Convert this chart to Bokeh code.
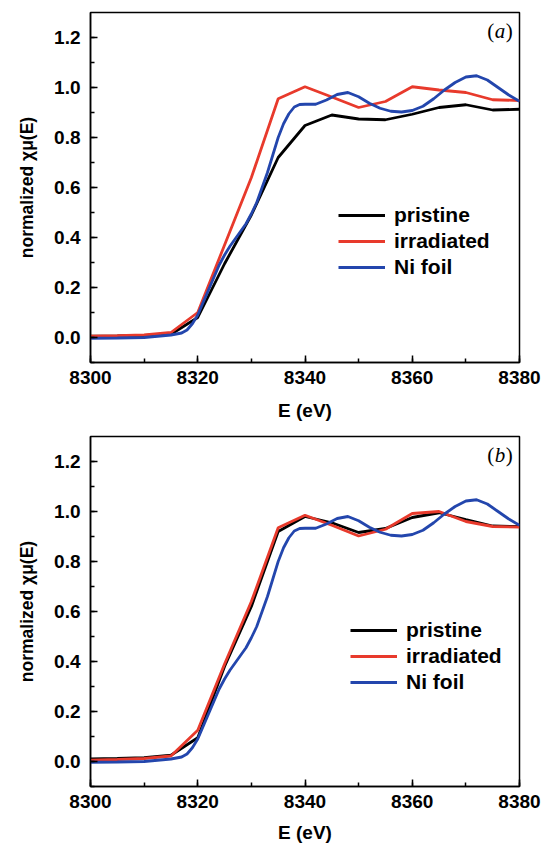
from bokeh.plotting import figure
from bokeh.models import (Range1d, SingleIntervalTicker, PrintfTickFormatter,
                          Legend, LegendItem, Label)
from bokeh.layouts import column
from bokeh.embed import file_html
from bokeh.resources import INLINE

# ---------------- data ----------------
energy = [8300, 8305, 8310, 8315, 8320, 8325, 8330, 8335, 8340,
          8345, 8350, 8355, 8360, 8365, 8370, 8375, 8380]

pristine_a = [0.005, 0.006, 0.008, 0.013, 0.080, 0.295, 0.490, 0.720, 0.848,
              0.890, 0.874, 0.871, 0.893, 0.920, 0.931, 0.910, 0.913]
irradiated_a = [0.005, 0.007, 0.010, 0.020, 0.100, 0.370, 0.640, 0.955, 1.003,
                0.962, 0.920, 0.944, 1.003, 0.990, 0.980, 0.951, 0.948]

pristine_b = [0.010, 0.012, 0.015, 0.025, 0.095, 0.380, 0.620, 0.920, 0.980,
              0.955, 0.916, 0.932, 0.976, 0.995, 0.968, 0.942, 0.940]
irradiated_b = [0.005, 0.008, 0.012, 0.022, 0.125, 0.390, 0.640, 0.935, 0.985,
                0.945, 0.902, 0.929, 0.992, 1.000, 0.960, 0.940, 0.938]

foil_energy = [8300, 8305, 8310, 8313, 8315, 8317, 8318, 8319, 8320, 8321,
               8322, 8323, 8324, 8325, 8326, 8327, 8328, 8329, 8330, 8331,
               8332, 8333, 8334, 8335, 8336, 8337, 8338, 8339, 8340, 8342,
               8344, 8346, 8348, 8350, 8352, 8354, 8356, 8358, 8360, 8362,
               8364, 8366, 8368, 8370, 8372, 8374, 8376, 8378, 8380]
ni_foil = [-0.003, -0.002, 0.000, 0.006, 0.010, 0.018, 0.030, 0.055, 0.090, 0.140,
           0.190, 0.240, 0.290, 0.330, 0.365, 0.395, 0.425, 0.455, 0.495, 0.540,
           0.600, 0.660, 0.730, 0.800, 0.855, 0.895, 0.922, 0.932, 0.933, 0.933,
           0.950, 0.972, 0.980, 0.963, 0.937, 0.917, 0.905, 0.902, 0.908, 0.925,
           0.955, 0.990, 1.020, 1.042, 1.047, 1.030, 1.000, 0.970, 0.945]

series_labels = ["pristine", "irradiated", "Ni foil"]
series_colors = ["#000000", "#e83a2c", "#2346ad"]
x_label = "E (eV)"
y_label = "normalized \u03c7\u03bc(E)"

FONT = "Liberation Sans"


def make_panel(pristine, irradiated, tag, height, btop, bbottom, leg_xy,
               x_std, x_lab_std):
    p = figure(width=543, height=height,
               x_range=Range1d(8300, 8380), y_range=Range1d(-0.1, 1.3),
               output_backend="svg", toolbar_location=None,
               min_border_left=90, min_border_right=24,
               min_border_top=btop, min_border_bottom=bbottom,
               background_fill_color="white", border_fill_color="white")
    p.xgrid.visible = False
    p.ygrid.visible = False
    p.outline_line_color = "black"
    p.outline_line_width = 1.5
    p.outline_line_alpha = 1.0

    r_p = p.line(energy, pristine, line_color=series_colors[0], line_width=2.8)
    r_i = p.line(energy, irradiated, line_color=series_colors[1], line_width=2.8)
    r_n = p.line(foil_energy, ni_foil, line_color=series_colors[2], line_width=2.8)

    p.xaxis.ticker = SingleIntervalTicker(interval=20, num_minor_ticks=2)
    p.yaxis.ticker = SingleIntervalTicker(interval=0.2, num_minor_ticks=2)
    p.xaxis.formatter = PrintfTickFormatter(format="%d")
    p.yaxis.formatter = PrintfTickFormatter(format="%.1f")
    p.xaxis.axis_label = x_label
    p.yaxis.axis_label = y_label
    for ax in (p.xaxis, p.yaxis):
        ax.axis_line_width = 1.5
        ax.major_tick_line_width = 1.5
        ax.minor_tick_line_width = 1.5
        ax.major_tick_in = 7
        ax.major_tick_out = 0
        ax.minor_tick_in = 4
        ax.minor_tick_out = 0
        ax.major_label_text_font = FONT
        ax.major_label_text_font_style = "bold"
        ax.major_label_text_font_size = "19px"
        ax.major_label_text_color = "black"
        ax.axis_label_text_font = FONT
        ax.axis_label_text_font_style = "bold"
        ax.axis_label_text_font_size = "19px"
        ax.axis_label_text_color = "black"
    p.yaxis.axis_label_text_font_size = "17.5px"
    p.xaxis.major_label_standoff = x_std
    p.xaxis.axis_label_standoff = x_lab_std
    p.yaxis.major_label_standoff = 10
    p.yaxis.axis_label_standoff = 14

    legend = Legend(items=[LegendItem(label=series_labels[0], renderers=[r_p]),
                           LegendItem(label=series_labels[1], renderers=[r_i]),
                           LegendItem(label=series_labels[2], renderers=[r_n])],
                    location=leg_xy, orientation="vertical",
                    background_fill_alpha=0, border_line_alpha=0,
                    padding=0, margin=0, spacing=2,
                    glyph_width=47, glyph_height=20, label_height=20,
                    label_standoff=9,
                    label_text_font=FONT, label_text_font_style="bold",
                    label_text_font_size="21px", label_text_color="black")
    p.add_layout(legend)

    # panel tag: upright parentheses, italic letter
    tag_x = 8374.0
    tag_y = 1.227
    common = dict(x=tag_x, y=tag_y, text_align="left", text_baseline="middle",
                  text_font="Liberation Serif", text_font_size="21px",
                  text_color="black")
    p.add_layout(Label(text="(", x_offset=0, **common))
    p.add_layout(Label(text=tag, x_offset=7.5, text_font_style="italic", **common))
    p.add_layout(Label(text=")", x_offset=18.5, **common))
    return p


p1 = make_panel(pristine_a, irradiated_a, "a", 427, 12, 65, (248, 83), 8, 13)
p2 = make_panel(pristine_b, irradiated_b, "b", 418, 9, 59, (260, 92), 8, 11)

layout = column(p1, p2)
open("out.html", "w").write(file_html(layout, INLINE))
